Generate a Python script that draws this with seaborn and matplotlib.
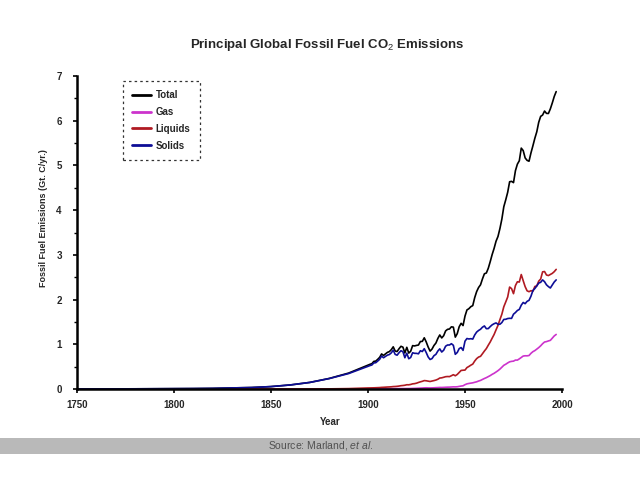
import numpy as np
import pandas as pd
import matplotlib
matplotlib.use("Agg")
import matplotlib.pyplot as plt
import seaborn as sns

# ---------------- data (GtC / yr) ----------------
years_early = [1750, 1760, 1770, 1780, 1790, 1800, 1810, 1820, 1830, 1840,
               1850, 1860, 1870, 1880, 1890]
years_late = list(range(1900, 1998))

total_early = [0.003, 0.003, 0.003, 0.004, 0.006, 0.008, 0.010, 0.014, 0.024, 0.033,
               0.054, 0.091, 0.147, 0.236, 0.356]
total_late = [0.534, 0.552, 0.566, 0.617, 0.624, 0.663, 0.707, 0.784, 0.750, 0.785,
              0.819, 0.836, 0.879, 0.943, 0.850, 0.838, 0.901, 0.955, 0.936, 0.806,
              0.932, 0.803, 0.845, 0.970, 0.963, 0.975, 0.983, 1.062, 1.065, 1.145,
              1.053, 0.940, 0.847, 0.893, 0.973, 1.027, 1.130, 1.209, 1.142, 1.192,
              1.299, 1.334, 1.342, 1.391, 1.383, 1.160, 1.238, 1.392, 1.469, 1.419,
              1.630, 1.768, 1.796, 1.841, 1.865, 2.043, 2.178, 2.270, 2.330, 2.462,
              2.577, 2.594, 2.700, 2.848, 3.008, 3.145, 3.305, 3.411, 3.588, 3.800,
              4.076, 4.231, 4.399, 4.635, 4.644, 4.615, 4.883, 5.029, 5.105, 5.387,
              5.332, 5.168, 5.113, 5.094, 5.280, 5.439, 5.607, 5.752, 5.965, 6.097,
              6.127, 6.217, 6.164, 6.162, 6.266, 6.398, 6.542, 6.651]

solids_early = [0.003, 0.003, 0.003, 0.004, 0.006, 0.008, 0.010, 0.014, 0.024, 0.033,
                0.054, 0.091, 0.147, 0.233, 0.345]
solids_late = [0.507, 0.524, 0.537, 0.583, 0.588, 0.625, 0.664, 0.736, 0.699, 0.729,
               0.757, 0.771, 0.808, 0.869, 0.774, 0.756, 0.812, 0.856, 0.835, 0.699,
               0.801, 0.677, 0.705, 0.810, 0.798, 0.797, 0.787, 0.856, 0.838, 0.901,
               0.816, 0.717, 0.660, 0.680, 0.745, 0.775, 0.849, 0.898, 0.827, 0.867,
               0.957, 0.984, 0.984, 1.013, 0.977, 0.776, 0.816, 0.903, 0.927, 0.864,
               1.070, 1.129, 1.119, 1.125, 1.116, 1.208, 1.273, 1.309, 1.336, 1.382,
               1.410, 1.349, 1.351, 1.396, 1.435, 1.460, 1.478, 1.448, 1.448, 1.486,
               1.556, 1.559, 1.576, 1.581, 1.579, 1.673, 1.710, 1.756, 1.780, 1.875,
               1.935, 1.908, 1.960, 1.983, 2.075, 2.202, 2.247, 2.305, 2.369, 2.386,
               2.440, 2.400, 2.330, 2.290, 2.259, 2.327, 2.393, 2.440]

liquids_early = [0.0, 0.0, 0.0, 0.0, 0.0, 0.0, 0.0, 0.0, 0.0, 0.0,
                 0.0, 0.0, 0.001, 0.003, 0.009]
liquids_late = [0.023, 0.024, 0.025, 0.026, 0.028, 0.030, 0.032, 0.036, 0.038, 0.041,
                0.044, 0.046, 0.049, 0.054, 0.056, 0.060, 0.066, 0.074, 0.078, 0.084,
                0.095, 0.094, 0.102, 0.115, 0.120, 0.130, 0.146, 0.160, 0.172, 0.188,
                0.184, 0.176, 0.168, 0.178, 0.188, 0.200, 0.218, 0.245, 0.250, 0.262,
                0.275, 0.279, 0.277, 0.297, 0.320, 0.296, 0.325, 0.370, 0.415, 0.420,
                0.423, 0.479, 0.504, 0.533, 0.557, 0.625, 0.679, 0.714, 0.731, 0.789,
                0.849, 0.904, 0.980, 1.052, 1.137, 1.219, 1.323, 1.423, 1.551, 1.673,
                1.839, 1.947, 2.057, 2.280, 2.245, 2.132, 2.314, 2.398, 2.392, 2.560,
                2.422, 2.289, 2.196, 2.176, 2.199, 2.186, 2.293, 2.306, 2.412, 2.459,
                2.620, 2.627, 2.550, 2.537, 2.562, 2.586, 2.624, 2.675]

gas_early = [0.0, 0.0, 0.0, 0.0, 0.0, 0.0, 0.0, 0.0, 0.0, 0.0,
             0.0, 0.0, 0.0, 0.0, 0.002]
gas_late = [0.003, 0.003, 0.004, 0.004, 0.005, 0.005, 0.005, 0.006, 0.006, 0.007,
            0.007, 0.007, 0.008, 0.008, 0.008, 0.009, 0.009, 0.009, 0.009, 0.009,
            0.010, 0.010, 0.011, 0.013, 0.014, 0.016, 0.018, 0.020, 0.022, 0.025,
            0.027, 0.025, 0.024, 0.025, 0.027, 0.030, 0.032, 0.035, 0.034, 0.036,
            0.039, 0.041, 0.042, 0.045, 0.048, 0.047, 0.050, 0.058, 0.066, 0.072,
            0.097, 0.115, 0.124, 0.131, 0.138, 0.150, 0.161, 0.178, 0.192, 0.214,
            0.235, 0.254, 0.277, 0.300, 0.328, 0.351, 0.380, 0.410, 0.445, 0.487,
            0.530, 0.554, 0.583, 0.608, 0.618, 0.623, 0.647, 0.646, 0.674, 0.705,
            0.737, 0.743, 0.742, 0.749, 0.798, 0.835, 0.859, 0.892, 0.926, 0.966,
            1.013, 1.051, 1.060, 1.075, 1.088, 1.137, 1.187, 1.220]

series_names = ["Total", "Gas", "Liquids", "Solids"]
series_colors = ["#000000", "#CC33CC", "#B01A22", "#0D0D96"]
x_ticks = [1750, 1800, 1850, 1900, 1950, 2000]
y_ticks = [0, 1, 2, 3, 4, 5, 6, 7]

# ---------------- build table ----------------
years = years_early + years_late
series_vals = {
    "Total": total_early + total_late,
    "Gas": gas_early + gas_late,
    "Liquids": liquids_early + liquids_late,
    "Solids": solids_early + solids_late,
}
frames = []
for name in series_names:
    frames.append(pd.DataFrame({"Year": years, "Emissions": series_vals[name], "Fuel": name}))
df = pd.concat(frames, ignore_index=True)

# ---------------- plot ----------------
sns.set_theme(style="white")
plt.rcParams["font.family"] = ["Liberation Sans", "DejaVu Sans"]
plt.rcParams["mathtext.fontset"] = "custom"
plt.rcParams["mathtext.rm"] = "Liberation Sans"
plt.rcParams["mathtext.it"] = "Liberation Sans:italic"
plt.rcParams["mathtext.bf"] = "Liberation Sans:bold"

fig = plt.figure(figsize=(6.4, 4.8), dpi=100)
fig.patch.set_facecolor("white")
ax = fig.add_axes([77 / 640, 1 - 389 / 480, 485 / 640, 313 / 480])

sns.lineplot(data=df, x="Year", y="Emissions", hue="Fuel", hue_order=series_names,
             palette=dict(zip(series_names, series_colors)), linewidth=1.2,
             estimator=None, ax=ax)

ax.set_xlim(1750, 2000)
ax.set_ylim(0, 7)
ax.set_xticks(x_ticks)
ax.set_yticks(y_ticks)
ax.set_yticks(np.arange(0.5, 7, 1.0), minor=True)
ax.set_xticklabels([str(t) for t in x_ticks], fontsize=7, fontweight="bold")
ax.set_yticklabels([str(t) for t in y_ticks], fontsize=7, fontweight="bold")
ax.tick_params(axis="both", which="major", direction="out", length=3, width=1.2,
               color="black", left=True, bottom=True)
ax.tick_params(axis="x", which="major", pad=5)
ax.tick_params(axis="y", which="major", pad=8)
ax.tick_params(axis="y", which="minor", direction="out", length=2, width=1.0,
               color="black", left=True)
ax.set_xlabel("")
ax.set_ylabel("")
ax.grid(False)
for s in ["top", "right"]:
    ax.spines[s].set_visible(False)
for s in ["left", "bottom"]:
    ax.spines[s].set_linewidth(1.8)
    ax.spines[s].set_color("black")

leg = ax.legend(loc="upper left", bbox_to_anchor=((123 - 77) / 485, (389 - 81) / 313),
                borderaxespad=0, frameon=True, fancybox=False, handlelength=1.9,
                labelspacing=0.7, borderpad=0.95, handletextpad=0.5,
                prop={"weight": "bold", "size": 7})
leg.get_frame().set_edgecolor("black")
leg.get_frame().set_linestyle((0, (2, 2.5)))
leg.get_frame().set_linewidth(0.9)
for line in leg.get_lines():
    line.set_linewidth(2.0)

fig.text(0.511, 1 - 45 / 480, "Principal Global Fossil Fuel CO$_2$ Emissions",
         ha="center", va="center", fontsize=9.5, fontweight="bold")
fig.text(44 / 640, 1 - 218 / 480, "Fossil Fuel Emissions (Gt. C/yr.)", rotation=90,
         ha="center", va="center", fontsize=6.5, fontweight="bold")
fig.text(330 / 640, 1 - 422 / 480, "Year", ha="center", va="center",
         fontsize=7, fontweight="bold")

# footer band
fig.patches.append(plt.Rectangle((0, 1 - 454 / 480), 1, 16 / 480, transform=fig.transFigure,
                                 facecolor="#B9B9B9", edgecolor="none", zorder=0))
fig.text(321 / 640, 1 - 446 / 480, r"Source: Marland, $\it{et\ al.}$", ha="center",
         va="center", fontsize=7.5, color="#505050")

fig.savefig("out.png", dpi=100, facecolor="white")
